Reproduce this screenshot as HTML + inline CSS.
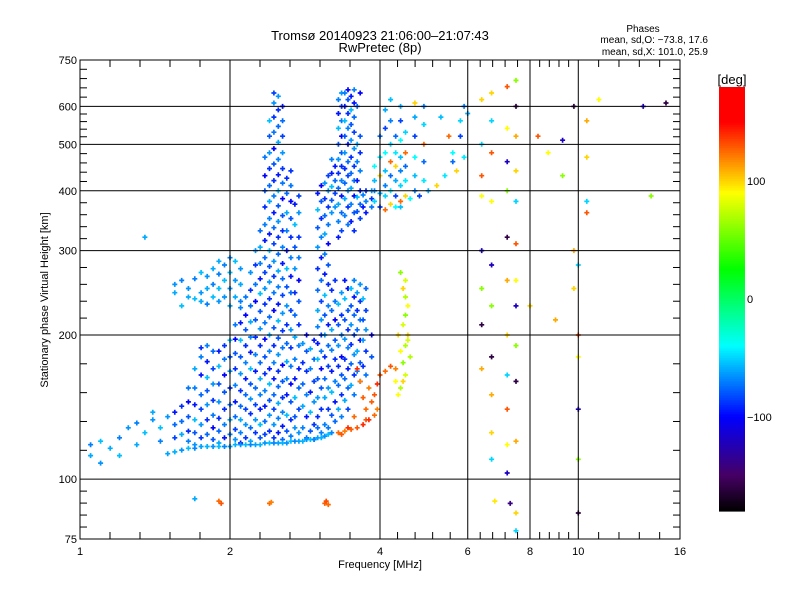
<!DOCTYPE html>
<html><head><meta charset="utf-8"><style>
body{margin:0;background:#fff;}
svg{display:block;font-family:"Liberation Sans",sans-serif;}
</style></head><body>
<svg id="chart" width="800" height="600" viewBox="0 0 800 600" xmlns="http://www.w3.org/2000/svg">
<rect width="800" height="600" fill="#fff"/>
<g id="marks"></g>
<g id="grid"></g>
<g id="axes"></g>
<text x="380" y="40" font-size="13" text-anchor="middle">Tromsø 20140923 21:06:00–21:07:43</text>
<text x="380" y="52" font-size="13" text-anchor="middle">RwPretec (8p)</text>
<text x="643" y="32" font-size="10" text-anchor="middle">Phases</text>
<text x="708" y="43" font-size="10" text-anchor="end">mean, sd,O: −73.8, 17.6</text>
<text x="708" y="55" font-size="10" text-anchor="end">mean, sd,X: 101.0, 25.9</text>
<text x="380" y="568" font-size="11" text-anchor="middle">Frequency [MHz]</text>
<text x="48" y="300" font-size="11" text-anchor="middle" transform="rotate(-90 48 300)">Stationary phase Virtual Height [km]</text>
<g id="cbar"></g>
<text x="732" y="84" font-size="13" text-anchor="middle">[deg]</text>
</svg>
<script>
// ---- data ----
const xTicks=[1,2,4,6,8,10,16];
const xGrid=[2,4,6,8,10];
const yTicks=[75,100,200,300,400,500,600,750];
const yGrid=[100,200,300,400,500,600];
const cbarTicks=[100,0,-100];
// main blue cluster: column freqs and heights
const bulkF=[1.55,1.65,1.75,1.85,1.95,2.05,2.15,2.25,2.35,2.45,2.55,2.65,2.75,2.85,2.95,3.05,3.15,3.25,3.35,3.45,3.55,3.65,3.75,3.85];
const bulkH=[
[122,130,138],[120,126,135,145,155],[122,130,140,150,165,180,188],[121,128,136,146,158,170,185],
[122,130,140,152,165,178,190],[121,127,135,145,157,170,183,196,210],[122,130,140,150,162,175,190,205,220,240],
[125,133,143,155,168,182,198,215,235,255,280,300],
[124,132,142,153,166,180,196,212,232,250,270,290,315,340,370,400,430,470],
[122,130,140,150,162,175,190,207,225,245,265,285,310,335,360,390,420,455,490,530,570,610,640],
[121,129,138,148,160,173,188,204,222,242,262,282,305,330,355,385,415,445,480,520,560,600],
[123,133,145,158,172,188,205,225,245,265,290,320,350,380,410,440],
[125,140,155,170,190,210,235,260,290,320,360,390],
[122,135,150,168,185,200],[121,130,145,160,178,195],
[125,140,155,170,185,200,215,235,260,290,320,350,380,410],
[128,140,155,172,190,210,230,255,280,310,340,370,400,430],
[132,145,160,178,195,215,235,260,370,395,420,450],
[135,150,165,180,200,220,245,330,360,390,420,450,480,520,560,600,640],
[140,155,170,188,205,225,250,340,370,400,430,460,500,540,580,620,650],
[150,165,182,200,220,240,260,330,360,390,420,450,490,530,570,610,650],
[160,175,195,215,235,255,350,375,400,440,480,520,640],
[165,185,205,225,250,360,380,400],[180,200,370,385,400]];
const bulkP=[-85,-75,-95,-70,-90,-80,-100,-72,-88,-65];
// interleaved columns of the same cluster
const bulk2F=[1.6,1.7,1.8,1.9,2.0,2.1,2.2,2.3,2.4,2.5,2.6,2.7,2.8,2.9,3.0,3.1,3.2,3.3,3.4,3.5,3.6,3.7];
const bulk2H=[
[124,132,142],[118,125,133,143,155,170],[124,133,143,153,163,176,190],[119,126,134,145,158,172,185],
[124,133,143,155,168,180,195],[119,125,133,142,153,166,180,195,212,228],
[120,128,137,147,158,170,184,198,213,230,248,270],
[122,130,140,150,162,175,190,206,224,244,262,282,305,330],
[126,136,146,158,170,185,200,218,238,258,278,300,325,350,380,410,445,480,520,560],
[125,134,144,156,168,182,197,214,232,252,272,295,320,345,372,400,432,465,505,545,590,630],
[126,136,150,162,176,192,210,230,252,275,300,330,360,395,425],
[128,135,148,162,178,198,220,245,275,305,340,375],
[128,142,158,175,192],[126,138,152,170,187],
[128,135,148,162,178,192,208,225,248,275,305,335,365,395],
[130,148,162,180,200,220,242,268,295,325,355,385,415],
[136,152,168,186,205,225,248,360,382,408,435,465],
[140,157,172,190,210,232,320,345,375,405,435,465,500,540,580,620],
[146,162,178,196,215,238,260,355,385,415,445,480,520,560,600,640],
[157,174,191,210,230,250,345,375,405,435,470,510,550,590,630],
[168,185,205,225,245,362,388,420,460,500,600],
[172,195,215,238,370,392]];
const bulk2P=[-60,-75,-90,-65,-80,-55,-95,-70];
// low trace (O-mode leading edge)
const traceF=[1.5,1.55,1.6,1.65,1.7,1.75,1.8,1.85,1.9,1.95,2.0,2.05,2.1,2.15,2.2,2.25,2.3,2.35,2.4,2.45,2.5,2.55,2.6,2.65,2.7,2.75,2.8,2.85,2.9,2.95,3.0,3.05,3.1,3.15,3.2];
const traceH=[113,114,115,116,116,117,117,117,117,117,117,118,118,118,118,118,118,119,119,119,119,119,119,120,120,120,120,121,121,121,122,122,123,124,125];
const traceP=[-62,-58,-65,-55,-68];
// light-blue patch
const patchF=[1.55,1.55,1.6,1.6,1.65,1.65,1.7,1.7,1.75,1.75,1.75,1.8,1.8,1.8,1.85,1.85,1.85,1.9,1.9,1.9,1.9,1.95,1.95,1.95,2.0,2.0,2.0,2.0,2.05,2.05,2.05,2.1,2.1,2.1];
const patchH=[245,255,230,260,240,250,238,262,235,245,270,232,250,265,240,255,275,235,250,268,285,240,260,280,230,250,270,290,240,260,285,235,255,275];
const patchP=[-60,-65,-55,-70];
// left sparse
const leftF=[1.05,1.05,1.1,1.1,1.15,1.2,1.2,1.25,1.3,1.3,1.35,1.4,1.4,1.45,1.45,1.5,1.35];
const leftH=[112,118,120,108,116,122,112,128,118,131,125,133,138,120,128,135,320];
const leftP=[-60,-70,-55,-65];
// orange X trace
const oranF=[3.3,3.35,3.4,3.45,3.5,3.55,3.6,3.65,3.7,3.7,3.75,3.75,3.8,3.8,3.85,3.9,3.9,3.95,3.95,4.0,4.1,4.2,4.3,3.6];
const oranH=[125,124,126,128,127,135,128,160,130,148,140,133,155,133,145,136,150,140,158,165,168,172,170,170];
const oranP=[125,130,120,140,128];
// yellow-green X trace
const yelF=[4.35,4.4,4.45,4.5,4.45,4.4,4.5,4.55,4.45,4.5,4.55,4.5,4.45,4.5,4.4,4.3,4.6,4.35,4.55];
const yelH=[150,155,160,165,175,185,190,200,210,220,230,240,250,260,270,160,180,200,195];
const yelP=[90,70,100,80,60];
// upper right cluster
const upF=[3.9,3.9,3.9,3.9,4.0,4.0,4.0,4.0,4.0,4.1,4.1,4.1,4.1,4.1,4.1,4.1,4.2,4.2,4.2,4.2,4.2,4.2,4.2,4.3,4.3,4.3,4.3,4.3,4.3,4.4,4.4,4.4,4.4,4.4,4.4,4.4,4.5,4.5,4.5,4.5,4.5,4.7,4.7,4.7,4.7,4.7,4.7,4.9,4.9,4.9,4.9,4.9,4.4,4.6,4.8,5.0,5.2,5.4,5.6,5.5,5.8,5.9,5.3,5.6,5.8,6.0,5.7,5.9];
const upH=[380,400,420,450,370,395,430,470,520,365,390,410,440,480,540,590,375,400,430,460,500,560,620,370,390,420,450,480,520,380,410,440,470,510,560,600,390,420,450,480,530,400,430,470,520,570,610,420,460,500,550,600,370,385,390,400,410,430,460,520,560,600,570,480,520,580,440,470];
const upP=[-50,-70,-55,-40,-85,-60,100,-45,-75,125];
// sparse high-frequency echoes
const sparseF=[6.4,6.4,6.4,6.4,6.4,6.4,6.4,6.4,6.7,6.7,6.7,6.7,6.7,6.7,6.7,6.7,6.7,6.7,7.2,7.2,7.2,7.2,7.2,7.2,7.2,7.2,7.2,7.2,7.2,7.5,7.5,7.5,7.5,7.5,7.5,7.5,7.5,7.5,7.5,7.5,7.5,7.5,8.3,8.7,9.3,9.3,9.8,9.8,9.8,10,10,10,10,10,10,10.4,10.4,10.4,10.4,11,13.5,14,15,9.0,8.0];
const sparseH=[620,500,430,390,300,250,210,170,640,560,480,380,280,230,180,150,125,110,660,540,460,400,320,260,200,165,140,118,103,680,600,520,440,380,310,260,230,190,160,120,85,78,520,480,510,430,600,300,250,280,200,180,140,110,85,560,470,380,360,620,600,390,610,215,230];
const sparseP=[100,-50,130,90,-120,60,-160,110];
// 90 km echoes
const lowF=[1.9,1.92,2.4,2.42,3.1,3.12,3.15,1.7,6.8,7.3];
const lowH=[90,89,89,89.5,89,90,88.5,91,90,89];
const lowP=[125,130,125,120,128,132,125,-60,95,-140];

// ---- scales ----
const X0=80,X1=680,Y0=60,Y1=539;
const xs=f=>X0+(X1-X0)*Math.log(f)/Math.log(16);
const ys=h=>Y1-(Y1-Y0)*Math.log(h/75)/Math.log(10);
const cTop=87,cBot=511;
const cs=p=>cTop+(180-p)/360*(cBot-cTop);
const stops=[[-180,0,0,0],[-150,70,0,100],[-100,0,0,255],[-40,0,255,255],[25,0,255,0],[90,255,255,0],[150,255,0,0],[180,255,0,0]];
function col(p){
  p=Math.max(-180,Math.min(180,p));
  for(let i=0;i<stops.length-1;i++){const a=stops[i],b=stops[i+1];
    if(p<=b[0]){const t=(p-a[0])/(b[0]-a[0]);
      return `rgb(${Math.round(a[1]+t*(b[1]-a[1]))},${Math.round(a[2]+t*(b[2]-a[2]))},${Math.round(a[3]+t*(b[3]-a[3]))})`;}}
  return 'rgb(255,0,0)';
}
const NS='http://www.w3.org/2000/svg';
function mk(tag,attrs,parent){const e=document.createElementNS(NS,tag);for(const k in attrs)e.setAttribute(k,attrs[k]);parent.appendChild(e);return e;}

// ---- marks ----
const marks=document.getElementById('marks');
function plotPt(f,h,p){
  const x=xs(f),y=ys(h);
  const e=mk('path',{d:`M${(x-2.5).toFixed(1)} ${y.toFixed(1)}h5M${x.toFixed(1)} ${(y-2.5).toFixed(1)}v5`,stroke:col(p),'stroke-width':1.7},marks);
  
  
}
let k=0;
bulkF.forEach((f,i)=>bulkH[i].forEach(h=>{plotPt(f,h,bulkP[k%bulkP.length]);k++;}));
k=0;
bulk2F.forEach((f,i)=>bulk2H[i].forEach(h=>{plotPt(f,h,bulk2P[k%bulk2P.length]);k++;}));
traceF.forEach((f,i)=>plotPt(f,traceH[i],traceP[i%traceP.length]));
patchF.forEach((f,i)=>plotPt(f,patchH[i],patchP[i%patchP.length]));
leftF.forEach((f,i)=>plotPt(f,leftH[i],leftP[i%leftP.length]));
oranF.forEach((f,i)=>plotPt(f,oranH[i],oranP[i%oranP.length]));
yelF.forEach((f,i)=>plotPt(f,yelH[i],yelP[i%yelP.length]));
upF.forEach((f,i)=>plotPt(f,upH[i],upP[i%upP.length]));
sparseF.forEach((f,i)=>plotPt(f,sparseH[i],sparseP[i%sparseP.length]));
lowF.forEach((f,i)=>plotPt(f,lowH[i],lowP[i%lowP.length]));

// ---- grid ----
const grid=document.getElementById('grid');
xGrid.forEach(v=>{const e=mk('line',{x1:xs(v),x2:xs(v),y1:Y0,y2:Y1,stroke:'#000','stroke-width':1},grid);
  
  });
yGrid.forEach(v=>{const e=mk('line',{x1:X0,x2:X1,y1:ys(v),y2:ys(v),stroke:'#000','stroke-width':1},grid);
  
  });

// ---- axes ----
const axes=document.getElementById('axes');
const frame=mk('rect',{x:X0,y:Y0,width:X1-X0,height:Y1-Y0,fill:'none',stroke:'#000','stroke-width':1},axes);


for(let i=0;i<xTicks.length;i++){
  const x=xs(xTicks[i]);
  const t=mk('text',{x:x,y:Y1+16,'font-size':11,'text-anchor':'middle'},axes);t.textContent=xTicks[i];
  
  
  if(i<xTicks.length-1){const xn=xs(xTicks[i+1]);
    for(let j=1;j<5;j++){const xm=x+(xn-x)*j/5;
      mk('line',{x1:xm,x2:xm,y1:Y1,y2:Y1-7,stroke:'#000'},axes);
      mk('line',{x1:xm,x2:xm,y1:Y0,y2:Y0+7,stroke:'#000'},axes);}}
}
for(let i=0;i<yTicks.length;i++){
  const y=ys(yTicks[i]);
  const t=mk('text',{x:X0-3,y:y+4,'font-size':11,'text-anchor':'end'},axes);t.textContent=yTicks[i];
  
  
  if(i<yTicks.length-1){const yn=ys(yTicks[i+1]);
    for(let j=1;j<5;j++){const ym=y+(yn-y)*j/5;
      mk('line',{x1:X0,x2:X0+7,y1:ym,y2:ym,stroke:'#000'},axes);
      mk('line',{x1:X1,x2:X1-7,y1:ym,y2:ym,stroke:'#000'},axes);}}
}

// ---- colorbar ----
const cb=document.getElementById('cbar');
for(let p=180;p>-180;p-=2){
  mk('rect',{x:719,y:cs(p),width:26,height:(cBot-cTop)/180+0.6,fill:col(p-1)},cb);
}
cbarTicks.forEach(v=>{const t=mk('text',{x:747,y:cs(v)+4,'font-size':11},cb);t.textContent=v===-100?'−100':v;
  
  });
</script>
</body></html>
